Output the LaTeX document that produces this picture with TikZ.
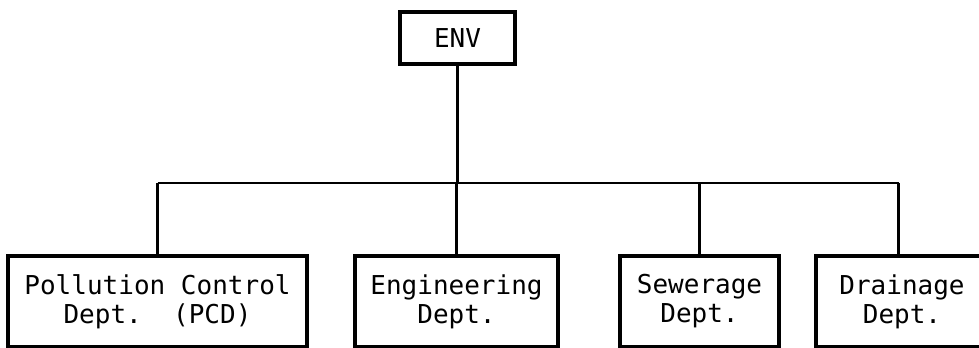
\documentclass[tikz,border=0pt]{standalone}
\usepackage{fontspec}
\setmonofont{DejaVu Sans Mono}
\usepackage{tikz}
\usetikzlibrary{positioning}

\begin{document}
\begin{tikzpicture}[
    font=\ttfamily\fontsize{18.5}{20.6}\selectfont,
    outer sep=0pt,
    align=center,
    dept/.style={draw, rectangle, line width=3pt, minimum height=2.275cm},
    link/.style={line width=2pt}
]
\useasboundingbox (0,0) rectangle (24.475,-8.7);

% ENV Box
\node[draw, rectangle, line width=3pt, minimum width=2.875cm, minimum height=1.3cm] (env) at (11.4375,-0.95) {ENV};

% Department Boxes
\node[dept, minimum width=7.475cm] (pcd) at (3.9375,-7.5375) {
    Pollution Control\\
    Dept.\ \ (PCD)
};

\node[dept, minimum width=5.075cm, right=1.2cm of pcd] (eng) {
    Engineering\\
    Dept.
};

\node[dept, minimum width=3.975cm, right=1.55cm of eng] (sew) {
    Sewerage\\
    Dept.
};

\node[dept, minimum width=4.3cm, right=0.925cm of sew] (drain) {
    Drainage\\
    Dept.
};

% Connectors
\coordinate (bus) at (0,-4.575);
\draw[link] (env.south) -- (env.south |- bus);
\draw[link] (pcd.north |- bus) -- ([xshift=-0.0875cm]drain.north |- bus);
\foreach \n in {pcd, eng, sew}
    \draw[link] (\n.north |- bus) -- (\n.north);
\draw[link] ([xshift=-0.0875cm]drain.north |- bus) -- ([xshift=-0.0875cm]drain.north);

\end{tikzpicture}
\end{document}
